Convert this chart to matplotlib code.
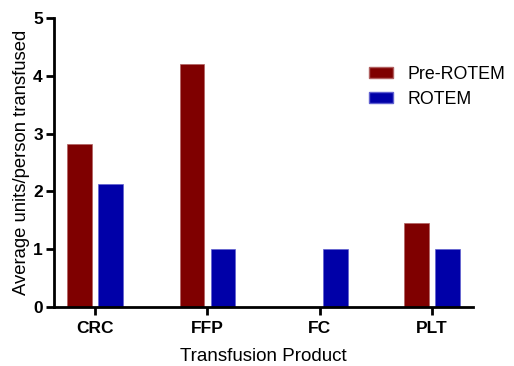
import numpy as np
import matplotlib
matplotlib.use('Agg')
import matplotlib.pyplot as plt
from matplotlib.patches import Patch

plt.rcParams['font.family'] = ['Liberation Sans', 'DejaVu Sans']

# data
products = ['CRC', 'FFP', 'FC', 'PLT']
pre_rotem = [2.82, 4.21, 0.0, 1.45]
rotem = [2.12, 1.0, 1.0, 1.0]

pre_color = '#7F0000'
rotem_color = '#0000A8'

fig = plt.figure(figsize=(5.14, 3.66), dpi=100)
ax = fig.add_axes([0.105, 0.161, 0.815, 0.79])

x = np.arange(len(products))
w = 0.22
ax.bar(x - 0.135, pre_rotem, width=w, color=pre_color, edgecolor='#B06060', linewidth=0.5)
ax.bar(x + 0.14, rotem, width=w, color=rotem_color, edgecolor='#6060D0', linewidth=0.5)

ax.set_xlim(-0.365, 3.365)
ax.set_ylim(0, 5)
ax.set_xticks(x)
ax.set_xticklabels(products, fontsize=12.5, fontweight='bold')
ax.set_yticks(range(6))
ax.set_yticklabels([str(i) for i in range(6)], fontsize=12.5, fontweight='bold')

for s in ['top', 'right']:
    ax.spines[s].set_visible(False)
for s in ['left', 'bottom']:
    ax.spines[s].set_linewidth(2)
ax.tick_params(axis='both', width=2, length=6, direction='out')
ax.tick_params(axis='x', pad=4)
ax.tick_params(axis='y', pad=2)

ax.set_xlabel('Transfusion Product', fontsize=13.5, labelpad=9)
ax.set_ylabel('Average units/person transfused', fontsize=13.3, labelpad=2)

handles = [Patch(facecolor=pre_color, edgecolor='#B06060', label='Pre-ROTEM'),
           Patch(facecolor=rotem_color, edgecolor='#6060D0', label='ROTEM')]
ax.legend(handles=handles, loc='upper left', bbox_to_anchor=(0.715, 0.89), frameon=False,
          fontsize=12.8, handlelength=1.35, handleheight=0.6, handletextpad=0.8, labelspacing=0.45)

fig.savefig('out.png', dpi=100)
